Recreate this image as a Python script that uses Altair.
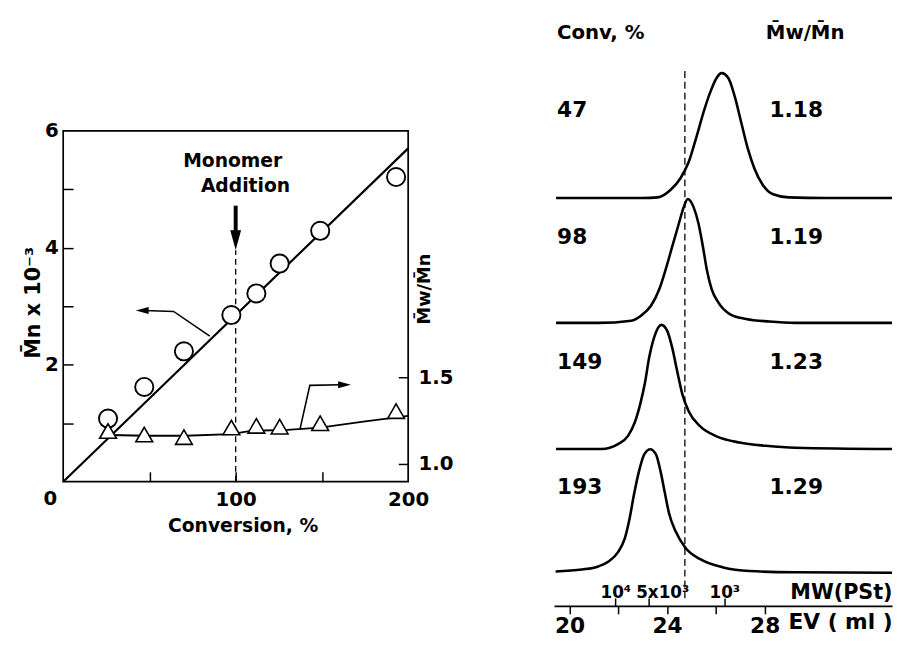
import altair as alt
import pandas as pd

FONT = "DejaVu Sans"

# ---------------- left panel: Mn and Mw/Mn vs conversion ----------------
conv = [26, 47, 70, 97.5, 112, 125.5, 149, 193]
mn_k = [1.08, 1.62, 2.23, 2.85, 3.22, 3.73, 4.29, 5.21]
mw_mn = [1.19, 1.17, 1.155, 1.21, 1.22, 1.215, 1.235, 1.305]

fit_conv = [0, 200]
fit_mn = [0, 5.70]

pdi_conv = [27, 48, 71, 97, 109, 130, 149, 174, 200]
pdi_val = [1.167, 1.163, 1.163, 1.172, 1.191, 1.197, 1.210, 1.244, 1.277]

x_ticks_lab = [100, 200]
x_ticks_in = [50, 100, 150]
y_ticks_lab = [2, 4, 6]
y_ticks_in = [1, 2, 3, 4, 5]
r_ticks = [1.0, 1.5]

# annotations (data units)
addition_conv = 100
dash_mn = [0, 3.96]
shaft_mn = [4.72, 4.25]
head_down = [100, 4.13]
left_arrow_conv = [85.0, 64.0, 46.9]
left_arrow_mn = [2.489, 2.911, 2.928]
left_head = [45.8, 2.928]
right_arrow_conv = [137.3, 143.0, 161.1]
right_arrow_mn = [0.898, 1.647, 1.657]
right_head = [163.1, 1.657]

# ---------------- right panel: GPC traces ----------------
ev_ticks = [20, 22, 24, 26, 28]
mw_pos = [21.88, 23.24, 26.35]
mw_labels = ["10\u2074", "5x10\u00b3", "10\u00b3"]
conv_labels = ["47", "98", "149", "193"]
pdi_labels = ["1.18", "1.19", "1.23", "1.29"]
trace_offsets = [3.0, 2.0, 0.99, 0.0]
label_v = [3.70, 2.686, 1.689, 0.687]
ref_ev = 24.73

ev_47 = [19.45, 23.0, 23.61, 24.15, 24.55, 24.89, 25.22, 25.49, 25.76, 26.03, 26.23,
         26.51, 26.77, 27.04, 27.31, 27.58, 27.92, 28.32, 28.99, 30.5, 33.22]
h_47 = [0, 0, 0.005, 0.066, 0.158, 0.290, 0.500, 0.684, 0.842, 0.961, 1.0,
        0.961, 0.816, 0.605, 0.395, 0.237, 0.106, 0.032, 0.005, 0, 0]

ev_98 = [19.45, 21.18, 22.53, 22.93, 23.34, 23.68, 23.94, 24.21, 24.48, 24.68, 24.85,
         25.09, 25.29, 25.47, 25.63, 25.83, 26.10, 26.57, 27.24, 28.19, 29.26, 33.22]
h_98 = [0, 0, 0.018, 0.058, 0.137, 0.269, 0.426, 0.610, 0.794, 0.925, 0.992,
        0.925, 0.794, 0.610, 0.426, 0.269, 0.164, 0.071, 0.032, 0.011, 0, 0]

ev_149 = [19.45, 21.32, 21.99, 22.40, 22.67, 22.91, 23.09, 23.27, 23.47, 23.77, 24.01,
          24.21, 24.41, 24.62, 24.89, 25.36, 26.03, 26.97, 28.05, 29.26, 33.22]
h_149 = [0, 0, 0.039, 0.105, 0.210, 0.368, 0.526, 0.736, 0.894, 0.994, 0.944,
         0.812, 0.628, 0.444, 0.300, 0.181, 0.102, 0.052, 0.026, 0.01, 0]

ev_193 = [19.43, 20.51, 21.18, 21.6, 21.99, 22.26, 22.46, 22.64, 22.84, 23.07, 23.31,
          23.54, 23.74, 23.90, 24.08, 24.35, 24.75, 25.36, 26.30, 27.38, 29.26, 33.22]
h_193 = [0.01, 0.025, 0.05, 0.09, 0.165, 0.27, 0.43, 0.621, 0.805, 0.949, 0.989,
         0.949, 0.805, 0.647, 0.476, 0.331, 0.200, 0.108, 0.042, 0.013, 0.003, 0]

# ---------------- geometry ----------------
LW, LH = 350, 356
RW, RH = 343, 482
XS, YS, RS = [0, 200], [0, 6], [0.898, 2.92]
EVS, VS = [19.366, 33.224], [-0.266, 3.538]


def sc(domain):
    return alt.Scale(domain=domain, nice=False, zero=False)


def X(field, axis=None):
    return alt.X(field, type="quantitative", scale=sc(XS), axis=axis)


def Y(field, axis=None):
    return alt.Y(field, type="quantitative", scale=sc(YS), axis=axis)


def R(field, axis=None):
    return alt.Y(field, type="quantitative", scale=sc(RS), axis=axis)


NOGRID = dict(grid=False, domain=False)

ax_bottom = alt.Axis(orient="bottom", values=x_ticks_lab, ticks=False, labelPadding=8,
                     labelFontSize=20, title="Conversion, %", titleFontSize=19,
                     titleX=182, titleY=45, titleAlign="center", titleBaseline="middle",
                     **NOGRID)
ax_xin = alt.Axis(orient="top", offset=-LH, values=x_ticks_in, labels=False, tickSize=10,
                  tickWidth=1.5, title=None, **NOGRID)
ax_left = alt.Axis(orient="left", values=y_ticks_lab, ticks=False, labelPadding=5,
                   labelFontSize=20, title="M\u0304n x 10\u207b\u00b3", titleFontSize=21,
                   titleX=-30, titleY=174, titleAngle=270, titleAlign="center",
                   titleBaseline="middle", **NOGRID)
ax_yin = alt.Axis(orient="right", offset=-LW, values=y_ticks_in, labels=False, tickSize=10,
                  tickWidth=1.5, title=None, **NOGRID)
ax_right = alt.Axis(orient="right", values=r_ticks, format=".1f", ticks=False, labelPadding=10,
                    labelFontSize=20, title="M\u0304w/M\u0304n", titleFontSize=18,
                    titleX=17, titleY=160, titleAngle=270, titleAlign="center",
                    titleBaseline="middle", **NOGRID)
ax_rin = alt.Axis(orient="left", offset=-LW, values=r_ticks, labels=False, tickSize=10,
                  tickWidth=1.5, title=None, **NOGRID)

fit_df = pd.DataFrame({"conv": fit_conv, "mn": fit_mn})
pts_df = pd.DataFrame({"conv": conv, "mn": mn_k, "pdi": mw_mn})
pdi_df = pd.DataFrame({"conv": pdi_conv, "pdi": pdi_val})

fit_line = alt.Chart(fit_df).mark_line(color="black", strokeWidth=2.2).encode(
    x=X("conv", ax_bottom), y=Y("mn", ax_left))

pdi_line = alt.Chart(pdi_df).mark_line(color="black", strokeWidth=1.9).encode(
    x=X("conv"), y=R("pdi", ax_right))

dash_df = pd.DataFrame({"conv": [addition_conv], "a": [dash_mn[0]], "b": [dash_mn[1]]})
dash = alt.Chart(dash_df).mark_rule(color="black", strokeWidth=1.3, strokeDash=[6, 4]).encode(
    x=X("conv"), y=Y("a"), y2="b:Q")

shaft_df = pd.DataFrame({"conv": [addition_conv], "a": [shaft_mn[0]], "b": [shaft_mn[1]]})
shaft = alt.Chart(shaft_df).mark_rule(color="black", strokeWidth=4).encode(
    x=X("conv"), y=Y("a"), y2="b:Q")

arrows_df = pd.DataFrame({
    "conv": left_arrow_conv + right_arrow_conv,
    "mn": left_arrow_mn + right_arrow_mn,
    "grp": ["l"] * 3 + ["r"] * 3,
    "i": [0, 1, 2, 0, 1, 2],
})
arrows = alt.Chart(arrows_df).mark_line(color="black", strokeWidth=1.6).encode(
    x=X("conv"), y=Y("mn"), detail="grp:N", order="i:Q")

heads_df = pd.DataFrame({
    "conv": [head_down[0], left_head[0], right_head[0]],
    "mn": [head_down[1], left_head[1], right_head[1]],
    "shape": ["M-0.55,-1L0.55,-1L0,1Z", "M-1,0L1,-0.55L1,0.55Z", "M1,0L-1,-0.55L-1,0.55Z"],
    "sz": [400, 169, 169],
})
heads = alt.Chart(heads_df).mark_point(filled=True, color="black", opacity=1).encode(
    x=X("conv"), y=Y("mn"), shape=alt.Shape("shape:N", scale=None),
    size=alt.Size("sz:Q", scale=None))

circles = alt.Chart(pts_df).mark_point(shape="circle", filled=False, fill="white",
                                       stroke="black", strokeWidth=1.9, size=340,
                                       opacity=1, fillOpacity=1).encode(
    x=X("conv", ax_xin), y=Y("mn", ax_yin))

triangles = alt.Chart(pts_df).mark_point(shape="triangle-up", filled=False, fill="white",
                                         stroke="black", strokeWidth=1.6, size=290,
                                         opacity=1, fillOpacity=1).encode(
    x=X("conv"), y=R("pdi", ax_rin))

txt_df = pd.DataFrame({"conv": [98.3, 105.7], "mn": [5.48, 5.06],
                       "t": ["Monomer", "Addition"]})
ann_text = alt.Chart(txt_df).mark_text(font=FONT, fontWeight="bold", fontSize=19,
                                       color="black").encode(
    x=X("conv"), y=Y("mn"), text="t:N")

zero_df = pd.DataFrame({"conv": [-7.4], "mn": [-0.29], "t": ["0"]})
zero_text = alt.Chart(zero_df).mark_text(font=FONT, fontWeight="bold", fontSize=20,
                                         color="black").encode(
    x=X("conv"), y=Y("mn"), text="t:N")

left = alt.layer(
    dash, shaft, heads, arrows, fit_line, pdi_line, circles, triangles,
    ann_text, zero_text
).resolve_scale(x="independent", y="independent").resolve_axis(
    x="independent", y="independent"
).properties(width=LW, height=LH,
             view=alt.ViewBackground(stroke="black", strokeWidth=1.7))

# ---------------- right panel ----------------
rows = []
for name, evs, hs, off in [("47", ev_47, h_47, trace_offsets[0]),
                           ("98", ev_98, h_98, trace_offsets[1]),
                           ("149", ev_149, h_149, trace_offsets[2]),
                           ("193", ev_193, h_193, trace_offsets[3])]:
    for e, h in zip(evs, hs):
        rows.append({"trace": name, "ev": e, "v": h + off})
tr_df = pd.DataFrame(rows)

mw_expr = (f"datum.value < 22.5 ? '{mw_labels[0]}' : "
           f"(datum.value < 25 ? '{mw_labels[1]}' : '{mw_labels[2]}')")
mid_test = "datum.value > 23 && datum.value < 25"

ax_ev = alt.Axis(orient="bottom", values=ev_ticks, grid=False, domain=True, domainWidth=2,
                 tickSize=8, tickWidth=1.5, labelPadding=2, labelFontSize=22,
                 labelExpr="datum.value % 4 == 0 ? datum.label : ''",
                 title="EV ( ml )", titleFontSize=22, titleX=RW, titleY=16,
                 titleAlign="right", titleBaseline="middle")
ax_mw = alt.Axis(orient="top", offset=-RH, values=mw_pos, grid=False, domain=False,
                 tickSize=8, tickWidth=1.5, labelPadding=1, labelFontSize=17,
                 labelBaseline="alphabetic",
                 labelAlign={"condition": {"test": mid_test, "value": "left"},
                             "value": "center"},
                 labelOffset={"condition": {"test": mid_test, "value": -13}, "value": 0},
                 labelExpr=mw_expr, title="MW(PSt)", titleFontSize=21, titleX=RW,
                 titleY=-13, titleAlign="right", titleBaseline="middle")


def EV(field, axis=None):
    return alt.X(field, type="quantitative", scale=sc(EVS), axis=axis)


def V(field):
    return alt.Y(field, type="quantitative", scale=sc(VS), axis=None)


traces = alt.Chart(tr_df).mark_line(color="black", strokeWidth=2.6,
                                    interpolate="monotone").encode(
    x=EV("ev", ax_ev), y=V("v"), detail="trace:N")

ref_df = pd.DataFrame({"ev": [ref_ev], "a": [4.017], "b": [-0.205]})
ref_line = alt.Chart(ref_df).mark_rule(color="black", strokeWidth=1.3,
                                       strokeDash=[7, 4]).encode(
    x=EV("ev", ax_mw), y=V("a"), y2="b:Q")

lab_df = pd.DataFrame({
    "ev": [19.49] * 4 + [28.2] * 4 + [19.49, 28.05],
    "v": label_v + label_v + [4.32, 4.32],
    "t": conv_labels + pdi_labels + ["Conv, %", "M\u0304w/M\u0304n"],
    "fs": [22] * 8 + [20, 20],
})
labels = alt.Chart(lab_df).mark_text(font=FONT, fontWeight="bold", align="left",
                                     baseline="middle", color="black").encode(
    x=EV("ev"), y=V("v"), text="t:N", size=alt.Size("fs:Q", scale=None))

right = alt.layer(traces, ref_line, labels).resolve_axis(x="independent").properties(
    width=RW, height=RH, view=alt.ViewBackground(strokeWidth=0))

chart = alt.hconcat(left, right, spacing=97).properties(
    padding={"left": 14, "top": 10, "right": 0, "bottom": 0}
).configure_view(strokeWidth=0).configure_axis(
    labelFont=FONT, titleFont=FONT, labelFontWeight="bold", titleFontWeight="bold",
    labelColor="black", titleColor="black", tickColor="black", domainColor="black",
    labelFlush=False, labelOverlap=False, grid=False
)

chart.save("out.html", embed_options={"renderer": "svg", "actions": False})
